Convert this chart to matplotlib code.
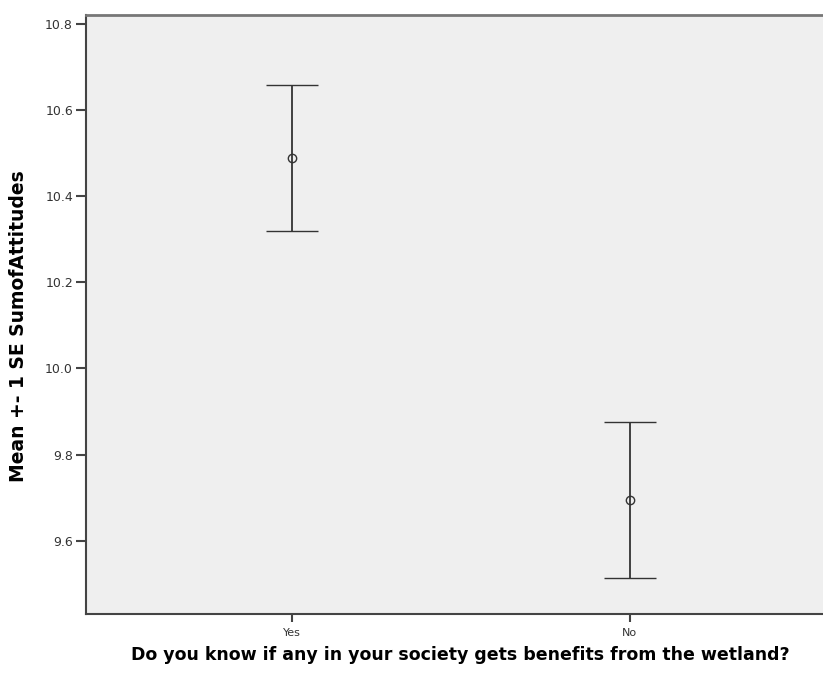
import matplotlib
matplotlib.use("Agg")
import matplotlib.pyplot as plt
import numpy as np

categories = ["Yes", "No"]
means = [10.488, 9.695]
se = [0.170, 0.181]

fig = plt.figure(figsize=(8.23, 6.75), dpi=100)
ax = fig.add_axes([0.1039, 0.0904, 0.8961, 0.8874])
ax.set_facecolor("#efefef")

x = np.arange(len(categories))
ax.errorbar(x, means, yerr=se, fmt="o", mfc="none", mec="#333333", ms=6, mew=1.0,
            ecolor="#333333", elinewidth=1.3, capsize=18.7, capthick=1.3, color="#333333")

ax.set_xlim(-0.61, 1.571)
ax.set_ylim(9.430, 10.820)
ax.set_xticks(x)
ax.set_xticklabels(categories, fontsize=8, color="#333333")
ax.set_yticks([9.6, 9.8, 10.0, 10.2, 10.4, 10.6, 10.8])
ax.set_yticklabels(["9.6", "9.8", "10.0", "10.2", "10.4", "10.6", "10.8"], fontsize=9, color="#333333")

for s in ["left", "bottom"]:
    ax.spines[s].set_color("#444444")
    ax.spines[s].set_linewidth(1.5)
ax.spines["top"].set_color("#777777")
ax.spines["top"].set_linewidth(2.0)
ax.spines["right"].set_visible(False)
ax.tick_params(axis="y", length=7, width=1.5, color="#444444", pad=2)
ax.tick_params(axis="x", length=6, width=1.5, color="#444444", pad=4)

ax.set_ylabel("Mean +- 1 SE SumofAttitudes", fontsize=13.5, fontweight="bold")
ax.yaxis.set_label_coords(-0.0915, 0.481)
ax.set_xlabel("Do you know if any in your society gets benefits from the wetland?",
              fontsize=12.5, fontweight="bold")
ax.xaxis.set_label_coords(0.508, -0.068)
ax.xaxis.label.set_va("center")
ax.yaxis.label.set_va("center")

fig.savefig("out.png", dpi=100)
